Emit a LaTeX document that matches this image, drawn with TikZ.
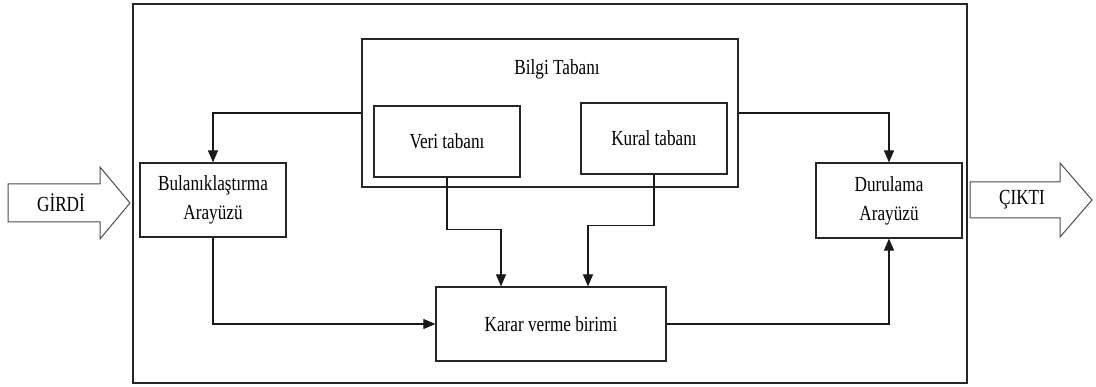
\documentclass[tikz,border=0pt]{standalone}
\usepackage{fontspec}
\setmainfont{Liberation Serif}[FakeStretch=0.8]
\usetikzlibrary{arrows.meta}
\begin{document}
\begin{tikzpicture}[x=1pt,y=-1pt,
  line width=1.2pt,
  every node/.style={font=\fontsize{21.5}{29}\selectfont, text=black},
  blk/.style={draw=black!85, rectangle, inner sep=0pt, align=center},
  arr/.style={draw=black!90, line width=1.1pt, -{Triangle[length=12pt,width=10pt]}},
  bigarrow/.style={draw=black!70, line width=1pt, fill=white}]
\useasboundingbox (0,0) rectangle (1096,387);

% enclosing system frame
\node[blk, minimum width=834pt, minimum height=379pt] (sys) at (550,193.5) {};

% knowledge base with its two parts
\node[blk, minimum width=376pt, minimum height=148pt] (bilgi) at (550,113) {};
\node (bilgititle) at (557,69) {Bilgi Tabanı};
\node[blk, minimum width=146pt, minimum height=71pt] (veri) at (447,141.5) {Veri tabanı};
\node[blk, minimum width=146pt, minimum height=71pt] (kural) at (654,138.5) {Kural tabanı};

% interfaces and inference unit
\node[blk, minimum width=146pt, minimum height=74pt] (bulan) at (213,200) {Bulanıklaştırma\\Arayüzü};
\node[blk, minimum width=146pt, minimum height=75pt] (durul) at (889,200.5) {Durulama\\Arayüzü};
\node[blk, minimum width=230pt, minimum height=74pt] (karar) at (551,324) {Karar verme birimi};

% input and output block arrows
\draw[bigarrow] (8,184) -- (100,184) -- (100,167) -- (130,203) -- (100,239)
  -- (100,222) -- (8,222) -- cycle;
\node (girdi) at (61,203) {GİRDİ};
\draw[bigarrow] (970,182) -- (1060,182) -- (1060,163) -- (1092,200) -- (1060,237)
  -- (1060,218) -- (970,218) -- cycle;
\node (cikti) at (1022,200) {ÇIKTI};

% connectors
\draw[arr] (bilgi.west) -| (bulan.north);
\draw[arr] (bilgi.east) -| (durul.north);
\draw[arr] (veri.south) |- ([xshift=-50pt,yshift=57pt]karar.north)
  -- ([xshift=-50pt]karar.north);
\draw[arr] (kural.south) |- ([xshift=37pt,yshift=61pt]karar.north)
  -- ([xshift=37pt]karar.north);
\draw[arr] (bulan.south) |- (karar.west);
\draw[arr] (karar.east) -| (durul.south);
\end{tikzpicture}
\end{document}
